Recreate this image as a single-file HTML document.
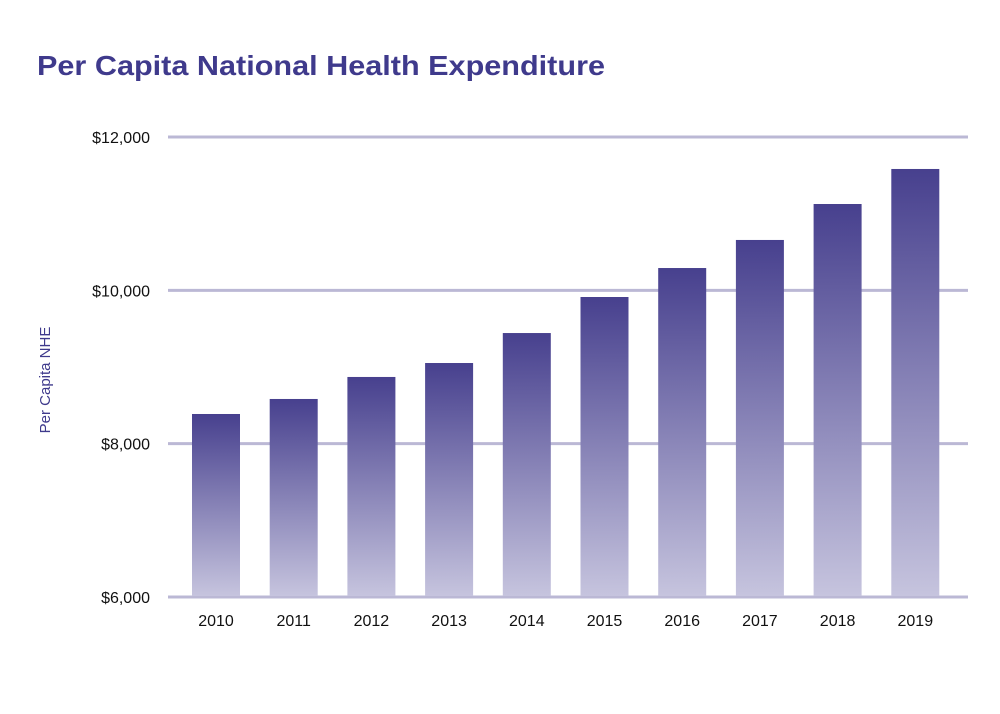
<!DOCTYPE html>
<html><head><meta charset="utf-8"><style>
body{margin:0;background:#fff}
svg{display:block;font-family:"Liberation Sans",sans-serif}
</style></head><body>
<svg width="1000" height="714" viewBox="0 0 1000 714">
<defs><linearGradient id="g" x1="0" y1="0" x2="0" y2="1"><stop offset="0" stop-color="#47408e"/><stop offset="1" stop-color="#c6c4de"/></linearGradient></defs>
<text x="37" y="75" font-size="28" font-weight="bold" fill="#3f3a8c" textLength="568" lengthAdjust="spacingAndGlyphs">Per Capita National Health Expenditure</text>
<text transform="translate(50,380) rotate(-90)" text-anchor="middle" font-size="15" fill="#3f3a8c">Per Capita NHE</text>
<g id="grid"></g><g id="bars"></g><g id="xl"></g>
</svg>
<script>
const years=['2010','2011','2012','2013','2014','2015','2016','2017','2018','2019'];
const values=[8387,8583,8870,9052,9443,9913,10291,10657,11126,11583];
const ticks=[6000,8000,10000,12000];
const tickLabels=['$6,000','$8,000','$10,000','$12,000'];
const NS='http://www.w3.org/2000/svg';
const y=v=>597-(v-6000)/6000*460;
const x=i=>216+i*77.7;
function mk(t,a,p){const e=document.createElementNS(NS,t);for(const k in a)e.setAttribute(k,a[k]);p.appendChild(e);return e;}
const G=document.getElementById('grid'),B=document.getElementById('bars'),X=document.getElementById('xl');
ticks.forEach((t,i)=>{
 const l=mk('line',{x1:168,x2:968,y1:y(t),y2:y(t),stroke:'#bbb8d5','stroke-width':3},G);
 
 
 const tx=mk('text',{x:150,y:y(t)+6,'text-anchor':'end','font-size':16,fill:'#111'},G);
 tx.textContent=tickLabels[i];
 
 
});
years.forEach((yr,i)=>{
 const r=mk('rect',{x:x(i)-24,y:y(values[i]),width:48,height:596-y(values[i]),fill:'url(#g)'},B);
 
 
 const t=mk('text',{x:x(i),y:626,'text-anchor':'middle','font-size':16,fill:'#111'},X);
 t.textContent=yr;
 
 
});
</script>
</body></html>
